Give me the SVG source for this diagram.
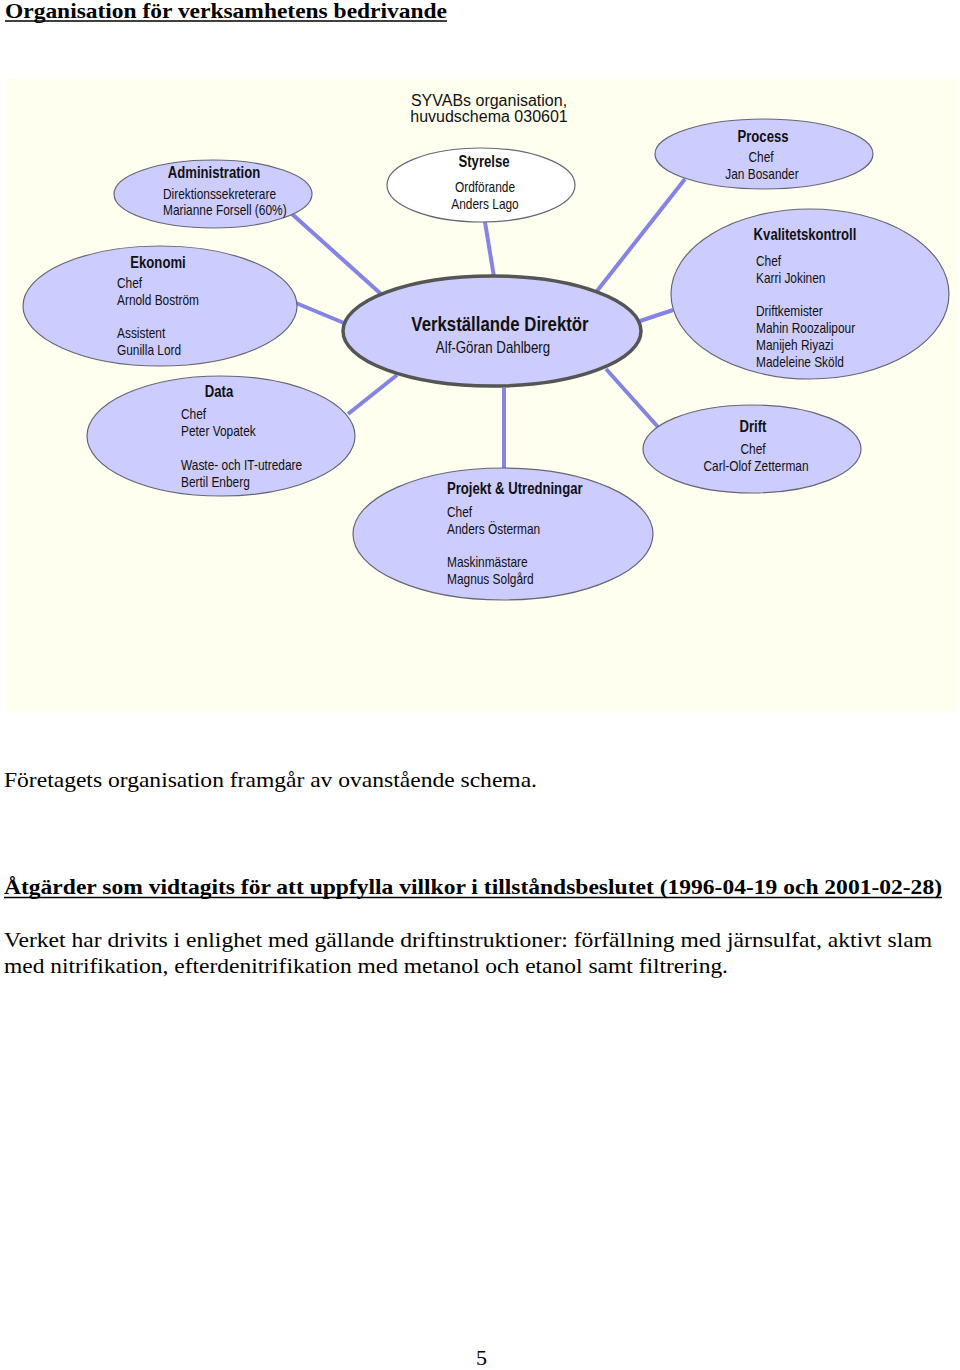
<svg xmlns="http://www.w3.org/2000/svg" width="960" height="1370" viewBox="0 0 960 1370">
<style>
.bg{fill:#FFFFF0}
.node{fill:#CCCCFF;stroke:#666677;stroke-width:1.2}
.vd{fill:#CCCCFF;stroke:#555555;stroke-width:3.5}
.white{fill:#FFFFFF;stroke:#666677;stroke-width:1.2}
.conn line{stroke:#8484E6;stroke-width:4;stroke-linecap:butt}
.t{font-family:"Liberation Sans",Arial,sans-serif;font-size:14px;fill:#111}
.h{font-family:"Liberation Sans",Arial,sans-serif;font-size:16px;font-weight:bold;fill:#111}
.c{text-anchor:middle}
.syv{font-family:"Liberation Sans",Arial,sans-serif;font-size:16px;fill:#111;text-anchor:middle}
.serif{font-family:"Liberation Serif","Times New Roman",serif;font-size:22px;fill:#000}
.b{font-weight:bold}
</style>
<rect x="0" y="0" width="960" height="1370" fill="#FFFFFF"/>
<text class="serif b" x="5" y="18" textLength="442" lengthAdjust="spacingAndGlyphs">Organisation för verksamhetens bedrivande</text>
<line x1="5" y1="21" x2="447" y2="21" stroke="#000" stroke-width="1.5"/>
<rect class="bg" x="5" y="78" width="952" height="634"/>
<text class="syv" x="489" y="106">SYVABs organisation,</text>
<text class="syv" x="489" y="122">huvudschema 030601</text>
<g id="connectors" class="conn">
<line x1="292" y1="214" x2="381" y2="294"/>
<line x1="296" y1="303" x2="344" y2="323"/>
<line x1="485" y1="222" x2="494" y2="277"/>
<line x1="685" y1="179" x2="597" y2="291"/>
<line x1="673" y1="310" x2="640" y2="321"/>
<line x1="348" y1="414" x2="397" y2="375"/>
<line x1="504" y1="468" x2="504" y2="388"/>
<line x1="658" y1="427" x2="606" y2="369"/>
</g>
<g id="administration">
<ellipse class="node" cx="213" cy="194" rx="99" ry="34"/>
<text class="h c" transform="matrix(.82 0 0 1 214 0)" x="0" y="178">Administration</text>
<text class="t" transform="matrix(.85 0 0 1 163 0)" x="0" y="199">Direktionssekreterare</text>
<text class="t" transform="matrix(.85 0 0 1 163 0)" x="0" y="215">Marianne Forsell (60%)</text>
</g>
<g id="ekonomi">
<ellipse class="node" cx="160" cy="306" rx="137" ry="60"/>
<text class="h c" transform="matrix(.82 0 0 1 158 0)" x="0" y="268">Ekonomi</text>
<text class="t" transform="matrix(.85 0 0 1 117 0)" x="0" y="288">Chef</text>
<text class="t" transform="matrix(.85 0 0 1 117 0)" x="0" y="305">Arnold Boström</text>
<text class="t" transform="matrix(.85 0 0 1 117 0)" x="0" y="338">Assistent</text>
<text class="t" transform="matrix(.85 0 0 1 117 0)" x="0" y="355">Gunilla Lord</text>
</g>
<g id="styrelse">
<ellipse class="white" cx="481" cy="185" rx="94" ry="37"/>
<text class="h c" transform="matrix(.82 0 0 1 484 0)" x="0" y="167">Styrelse</text>
<text class="t c" transform="matrix(.85 0 0 1 485 0)" x="0" y="192">Ordförande</text>
<text class="t c" transform="matrix(.85 0 0 1 485 0)" x="0" y="209">Anders Lago</text>
</g>
<g id="process">
<ellipse class="node" cx="764" cy="154" rx="109" ry="35"/>
<text class="h c" transform="matrix(.82 0 0 1 763 0)" x="0" y="142">Process</text>
<text class="t c" transform="matrix(.85 0 0 1 761 0)" x="0" y="162">Chef</text>
<text class="t c" transform="matrix(.85 0 0 1 762 0)" x="0" y="179">Jan Bosander</text>
</g>
<g id="kvalitetskontroll">
<ellipse class="node" cx="810" cy="294" rx="139" ry="85"/>
<text class="h c" transform="matrix(.82 0 0 1 805 0)" x="0" y="240">Kvalitetskontroll</text>
<text class="t" transform="matrix(.85 0 0 1 756 0)" x="0" y="266">Chef</text>
<text class="t" transform="matrix(.85 0 0 1 756 0)" x="0" y="283">Karri Jokinen</text>
<text class="t" transform="matrix(.85 0 0 1 756 0)" x="0" y="316">Driftkemister</text>
<text class="t" transform="matrix(.85 0 0 1 756 0)" x="0" y="333">Mahin Roozalipour</text>
<text class="t" transform="matrix(.85 0 0 1 756 0)" x="0" y="350">Manijeh Riyazi</text>
<text class="t" transform="matrix(.85 0 0 1 756 0)" x="0" y="367">Madeleine Sköld</text>
</g>
<g id="vd">
<ellipse class="vd" cx="492" cy="331" rx="149" ry="55"/>
<text class="h c" transform="matrix(.84 0 0 1 500 0)" x="0" y="331" style="font-size:20px">Verkställande Direktör</text>
<text class="t c" transform="matrix(.83 0 0 1 493 0)" x="0" y="353" style="font-size:16px">Alf-Göran Dahlberg</text>
</g>
<g id="data">
<ellipse class="node" cx="221" cy="436" rx="134" ry="60"/>
<text class="h c" transform="matrix(.82 0 0 1 219 0)" x="0" y="397">Data</text>
<text class="t" transform="matrix(.85 0 0 1 181 0)" x="0" y="419">Chef</text>
<text class="t" transform="matrix(.85 0 0 1 181 0)" x="0" y="436">Peter Vopatek</text>
<text class="t" transform="matrix(.85 0 0 1 181 0)" x="0" y="470">Waste- och IT-utredare</text>
<text class="t" transform="matrix(.85 0 0 1 181 0)" x="0" y="487">Bertil Enberg</text>
</g>
<g id="projekt">
<ellipse class="node" cx="503" cy="534" rx="150" ry="66"/>
<text class="h" transform="matrix(.82 0 0 1 447 0)" x="0" y="494">Projekt &amp; Utredningar</text>
<text class="t" transform="matrix(.85 0 0 1 447 0)" x="0" y="517">Chef</text>
<text class="t" transform="matrix(.85 0 0 1 447 0)" x="0" y="534">Anders Österman</text>
<text class="t" transform="matrix(.85 0 0 1 447 0)" x="0" y="567">Maskinmästare</text>
<text class="t" transform="matrix(.85 0 0 1 447 0)" x="0" y="584">Magnus Solgård</text>
</g>
<g id="drift">
<ellipse class="node" cx="752" cy="449" rx="109" ry="44"/>
<text class="h c" transform="matrix(.82 0 0 1 753 0)" x="0" y="432">Drift</text>
<text class="t c" transform="matrix(.85 0 0 1 753 0)" x="0" y="454">Chef</text>
<text class="t c" transform="matrix(.85 0 0 1 756 0)" x="0" y="471">Carl-Olof Zetterman</text>
</g>
<text class="serif" x="4" y="787" textLength="533" lengthAdjust="spacingAndGlyphs">Företagets organisation framgår av ovanstående schema.</text>
<text class="serif b" x="4" y="894" textLength="938" lengthAdjust="spacingAndGlyphs">Åtgärder som vidtagits för att uppfylla villkor i tillståndsbeslutet (1996-04-19 och 2001-02-28)</text>
<line x1="4" y1="897.5" x2="942" y2="897.5" stroke="#000" stroke-width="1.5"/>
<text class="serif" x="4" y="947" textLength="928" lengthAdjust="spacingAndGlyphs">Verket har drivits i enlighet med gällande driftinstruktioner: förfällning med järnsulfat, aktivt slam</text>
<text class="serif" x="4" y="973" textLength="724" lengthAdjust="spacingAndGlyphs">med nitrifikation, efterdenitrifikation med metanol och etanol samt filtrering.</text>
<text class="serif" x="476" y="1365">5</text>
</svg>
